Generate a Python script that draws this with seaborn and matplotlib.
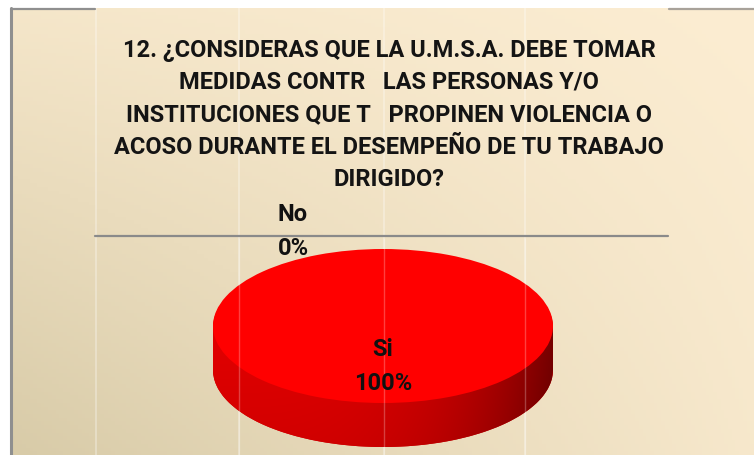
import numpy as np
import matplotlib
matplotlib.use("Agg")
import matplotlib.pyplot as plt
import seaborn as sns

# ---- data ----
title_lines = [
    "12. ¿CONSIDERAS QUE LA U.M.S.A. DEBE TOMAR",
    "MEDIDAS CONTR   LAS PERSONAS Y/O",
    "INSTITUCIONES QUE T   PROPINEN VIOLENCIA O",
    "ACOSO DURANTE EL DESEMPEÑO DE TU TRABAJO",
    "DIRIGIDO?",
]
categories = ["Si", "No"]
percentages = [100, 0]
slice_colors = ["#ff0000", "#e00000"]

sns.set_theme(style="white")
plt.rcParams['font.family'] = ['Roboto', 'DejaVu Sans']

W, H = 754, 456
fig = plt.figure(figsize=(W / 100, H / 100), dpi=100)
fig.patch.set_facecolor("white")

# ---- background (pixel coordinates) ----
bg = fig.add_axes([0, 0, 1, 1])
bg.set_xlim(0, W)
bg.set_ylim(H, 0)
bg.axis("off")
yy, xx = np.mgrid[0:1:120j, 0:1:200j]
t = (1 - xx) * (0.2 + 0.8 * yy) + 0.15 * xx * yy
c0 = np.array([252, 237, 210]) / 255.0
c1 = np.array([216, 203, 168]) / 255.0
rgb = c0[None, None, :] * (1 - t[..., None]) + c1[None, None, :] * t[..., None]
bg.imshow(rgb, extent=(11, W, H, 9), aspect="auto", origin="upper", zorder=0)

for xv in [96, 239, 384, 525]:
    bg.plot([xv, xv], [9, H], color="white", lw=1.4, alpha=0.3, zorder=1)
bg.plot([11, 95], [9.5, 9.5], color="#8f8f8f", lw=1.6, zorder=2)
bg.plot([669, W], [9.5, 9.5], color="#a8a29a", lw=1.6, zorder=2)
bg.plot([11, 11], [9, H], color="#8f8f8f", lw=2.2, zorder=2)
bg.plot([95, 668], [236.5, 236.5], color="#8a8a8a", lw=1.6, zorder=2)

# ---- pie axes: ellipse center (383,327), semi-axes 170 x 77 px ----
cx, cy, rx, ry = 383.0, 327.0, 170.0, 77.0
depth = 44.0 / ry
ax = fig.add_axes([0, 0, 1, 1])
ax.patch.set_alpha(0)

# side of the 3-D pie: stacked copies of the pie, lowered
for k in np.linspace(depth, 0.02, 30):
    ax.pie(percentages, colors=["#d00000", "#a00000"], radius=1, center=(0, -k),
           startangle=90, counterclock=False, wedgeprops=dict(linewidth=0))

# shading on the side
xs = np.linspace(-1, 1, 400)
side = ax.fill_between(xs, -np.sqrt(np.clip(1 - xs ** 2, 0, 1)) - depth, 0,
                       color="none", lw=0)
gr, gc = np.mgrid[0:1:60j, 0:1:200j]
shade = np.clip(0.12 + 0.78 * gc ** 3.5 + 0.12 * gr, 0, 1)
dark = np.array([0.42, 0.0, 0.0])
light = np.array([0.95, 0.0, 0.0])
grad = light[None, None, :] * (1 - shade[..., None]) + dark[None, None, :] * shade[..., None]
im = ax.imshow(grad, extent=(-1, 1, -1 - depth, 0.0), aspect="auto", zorder=3)
im.set_clip_path(side.get_paths()[0], transform=ax.transData)

# top face
wedges, _ = ax.pie(percentages, colors=slice_colors, radius=1, center=(0, 0),
                   startangle=90, counterclock=False,
                   wedgeprops=dict(linewidth=0))
for w in wedges:
    w.set_zorder(4)

ax.set_aspect("auto")
ax.set_xlim((0 - cx) / rx, (W - cx) / rx)
ax.set_ylim((cy - H) / ry, (cy - 0) / ry)
ax.axis("off")

# faint grid lines over the pie
for xv in [239, 384, 525]:
    lx = (xv - cx) / rx
    ax.plot([lx, lx], [(cy - H) / ry, (cy - 240) / ry],
            color="white", lw=1.0, alpha=0.25, zorder=5)

# ---- texts ----
fs = 17
tx = fig.add_axes([0, 0, 1, 1])
tx.set_xlim(0, W)
tx.set_ylim(H, 0)
tx.axis("off")
tx.patch.set_alpha(0)
for i, line in enumerate(title_lines):
    tx.text(389, 50 + i * 32.5, line, ha="center", va="center",
            fontsize=fs, fontweight="bold", color="#141414")

label_pos = {"Si": (383, 350), "No": (293, 215)}
for cat, pct in zip(categories, percentages):
    x0, y0 = label_pos[cat]
    tx.text(x0, y0, cat, ha="center", va="center", fontsize=fs,
            fontweight="bold", color="#111111")
    tx.text(x0, y0 + 34, f"{pct}%", ha="center", va="center", fontsize=fs,
            fontweight="bold", color="#111111")

fig.savefig("out.png", dpi=100)
